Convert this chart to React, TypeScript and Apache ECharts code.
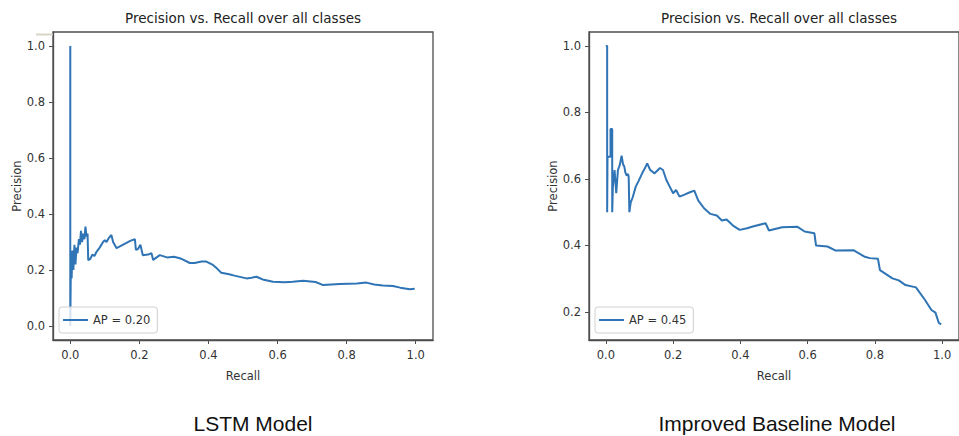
import React, { useEffect, useRef } from "react";
import * as echarts from "echarts";

const chartTitle = "Precision vs. Recall over all classes";
const captions = ["LSTM Model", "Improved Baseline Model"];
const legendNames = ["AP = 0.20", "AP = 0.45"];
const xTicks = [0, 0.2, 0.4, 0.6, 0.8, 1.0];
const leftYTicks = [0, 0.2, 0.4, 0.6, 0.8, 1.0];
const rightYTicks = [0.2, 0.4, 0.6, 0.8, 1.0];

const lstmRecall = [
  0, 0, 0.002, 0.004, 0.006, 0.009, 0.012, 0.015, 0.018, 0.021, 0.025, 0.028, 0.031, 0.034, 0.038,
  0.041, 0.044, 0.047, 0.05, 0.052, 0.058, 0.064, 0.07, 0.076, 0.085, 0.095, 0.1, 0.105, 0.112,
  0.119, 0.124, 0.134, 0.145, 0.16, 0.175, 0.187, 0.19, 0.196, 0.203, 0.21, 0.225, 0.235, 0.24,
  0.25, 0.259, 0.28, 0.3, 0.317, 0.325, 0.346, 0.36, 0.38, 0.394, 0.413, 0.425, 0.437, 0.46,
  0.475, 0.51, 0.525, 0.539, 0.56, 0.587, 0.62, 0.644, 0.674, 0.71, 0.732, 0.78, 0.83, 0.857,
  0.88, 0.905, 0.934, 0.955, 0.983, 0.997,
];
const lstmPrecision = [
  1.0, 0.0, 0.25, 0.17, 0.27, 0.2, 0.29, 0.22, 0.28, 0.26, 0.31, 0.29, 0.34, 0.3, 0.33, 0.31,
  0.355, 0.32, 0.33, 0.235, 0.24, 0.255, 0.25, 0.265, 0.28, 0.3, 0.307, 0.3, 0.315, 0.325, 0.3,
  0.278, 0.285, 0.295, 0.305, 0.31, 0.272, 0.275, 0.29, 0.253, 0.255, 0.26, 0.236, 0.245, 0.253,
  0.245, 0.247, 0.242, 0.238, 0.225, 0.225, 0.23, 0.23, 0.218, 0.205, 0.19, 0.185, 0.18, 0.17,
  0.172, 0.176, 0.165, 0.158, 0.156, 0.158, 0.162, 0.157, 0.146, 0.15, 0.152, 0.155, 0.148,
  0.145, 0.143, 0.137, 0.131, 0.133,
];

const baseRecall = [
  0, 0.004, 0.004, 0.005, 0.014, 0.014, 0.019, 0.019, 0.021, 0.026, 0.031, 0.036, 0.041, 0.047,
  0.051, 0.055, 0.058, 0.062, 0.066, 0.068, 0.07, 0.074, 0.08, 0.089, 0.098, 0.108, 0.116, 0.123,
  0.132, 0.145, 0.161, 0.17, 0.18, 0.19, 0.2, 0.209, 0.219, 0.234, 0.25, 0.263, 0.275, 0.292,
  0.311, 0.33, 0.345, 0.359, 0.378, 0.398, 0.42, 0.437, 0.475, 0.485, 0.524, 0.57, 0.591, 0.62,
  0.625, 0.659, 0.682, 0.736, 0.77, 0.785, 0.809, 0.815, 0.852, 0.871, 0.891, 0.922, 0.949,
  0.968, 0.98, 0.99, 0.997,
];
const basePrecision = [
  1.0, 1.0, 0.5, 0.667, 0.667, 0.75, 0.75, 0.5, 0.577, 0.627, 0.557, 0.627, 0.64, 0.67, 0.645,
  0.637, 0.62, 0.61, 0.615, 0.607, 0.5, 0.53, 0.545, 0.577, 0.595, 0.617, 0.632, 0.647, 0.627,
  0.617, 0.633, 0.627, 0.597, 0.577, 0.557, 0.567, 0.547, 0.553, 0.56, 0.565, 0.535, 0.512,
  0.495, 0.49, 0.475, 0.478, 0.46, 0.447, 0.452, 0.457, 0.467, 0.445, 0.455, 0.456, 0.442, 0.437,
  0.4, 0.397, 0.385, 0.386, 0.366, 0.362, 0.36, 0.326, 0.301, 0.295, 0.281, 0.274, 0.236, 0.206,
  0.198, 0.167, 0.163,
];

const LINE = "#2f74b5";
const AXIS = "#4d4d4d";
const TXT = "#333333";
const MPL_FONT = "'DejaVu Sans', sans-serif";
const LEGEND_ICON =
  "path://M0,5H25V7H0Z M0,0H0.01V0.01H0Z M24.99,11.99H25V12H24.99Z";

export default function App() {
  const ref = useRef<HTMLDivElement>(null);
  useEffect(() => {
    if (!ref.current) return;
    const chart = echarts.init(ref.current, null, { renderer: "svg" });
    const fmt = (v: number) => v.toFixed(1);
    const xAxisBase = (gridIndex: number) => ({
      type: "value",
      gridIndex,
      min: -0.05,
      max: 1.05,
      name: "Recall",
      nameLocation: "middle",
      nameGap: 30,
      nameTextStyle: { fontFamily: MPL_FONT, fontSize: 11.5, color: TXT },
      splitLine: { show: false },
      axisLine: { show: true, onZero: false, lineStyle: { color: AXIS, width: 1.3 } },
      axisTick: {
        show: true,
        length: 4,
        inside: false,
        customValues: xTicks,
        lineStyle: { color: AXIS, width: 1 },
      },
      axisLabel: {
        customValues: xTicks,
        formatter: fmt,
        margin: 9,
        fontFamily: MPL_FONT,
        fontSize: 11.5,
        color: TXT,
      },
    });
    const yAxisBase = (gridIndex: number, min: number, max: number, ticks: number[]) => ({
      type: "value",
      gridIndex,
      min,
      max,
      name: "Precision",
      nameLocation: "middle",
      nameGap: 30,
      nameTextStyle: { fontFamily: MPL_FONT, fontSize: 11.5, color: TXT },
      splitLine: { show: false },
      axisLine: { show: true, onZero: false, lineStyle: { color: AXIS, width: 1.3 } },
      axisTick: {
        show: true,
        length: 4,
        inside: false,
        customValues: ticks,
        lineStyle: { color: AXIS, width: 1 },
      },
      axisLabel: {
        customValues: ticks,
        formatter: fmt,
        margin: 8,
        fontFamily: MPL_FONT,
        fontSize: 11.5,
        color: TXT,
      },
    });
    const legendBase = (name: string, left: number) => ({
      data: [{ name, icon: LEGEND_ICON }],
      left,
      top: 307,
      orient: "vertical",
      backgroundColor: "rgba(255,255,255,0.8)",
      borderColor: "#d0d0d0",
      borderWidth: 1,
      borderRadius: 3,
      padding: [7, 7, 7, 4],
      itemWidth: 25,
      itemHeight: 12,
      itemStyle: { color: LINE, borderWidth: 0 },
      lineStyle: { width: 0 },
      textStyle: { fontFamily: MPL_FONT, fontSize: 11.5, color: TXT },
    });
    chart.setOption({
      animation: false,
      backgroundColor: "#ffffff",
      grid: [
        { left: 53, top: 32, width: 380, height: 308, show: true, borderColor: AXIS, borderWidth: 1.3, containLabel: false },
        { left: 589, top: 32, width: 380, height: 308, show: true, borderColor: AXIS, borderWidth: 1.3, containLabel: false },
      ],
      xAxis: [xAxisBase(0), xAxisBase(1)],
      yAxis: [yAxisBase(0, -0.05, 1.05, leftYTicks), yAxisBase(1, 0.1158, 1.042, rightYTicks)],
      legend: [legendBase(legendNames[0], 59), legendBase(legendNames[1], 595)],
      series: [
        {
          name: legendNames[0],
          type: "line",
          xAxisIndex: 0,
          yAxisIndex: 0,
          symbol: "none",
          lineStyle: { color: LINE, width: 2 },
          itemStyle: { color: LINE },
          data: lstmRecall.map((r, i) => [r, lstmPrecision[i]]),
        },
        {
          name: legendNames[1],
          type: "line",
          xAxisIndex: 1,
          yAxisIndex: 1,
          symbol: "none",
          lineStyle: { color: LINE, width: 2 },
          itemStyle: { color: LINE },
          data: baseRecall.map((r, i) => [r, basePrecision[i]]),
        },
      ],
      graphic: [
        {
          type: "text",
          x: 243,
          y: 18,
          style: { text: chartTitle, fontFamily: MPL_FONT, fontSize: 13.5, fill: "#222", align: "center", verticalAlign: "middle" },
        },
        {
          type: "text",
          x: 779,
          y: 18,
          style: { text: chartTitle, fontFamily: MPL_FONT, fontSize: 13.5, fill: "#222", align: "center", verticalAlign: "middle" },
        },
        {
          type: "text",
          x: 253,
          y: 423,
          style: { text: captions[0], fontFamily: "'Liberation Sans', Arial, sans-serif", fontSize: 21, fill: "#111", align: "center", verticalAlign: "middle" },
        },
        {
          type: "text",
          x: 777,
          y: 423,
          style: { text: captions[1], fontFamily: "'Liberation Sans', Arial, sans-serif", fontSize: 21, fill: "#111", align: "center", verticalAlign: "middle" },
        },
        {
          type: "line",
          shape: { x1: 36, y1: 34.5, x2: 53, y2: 34.5 },
          style: { stroke: "#d9d4c5", lineWidth: 2 },
        },
      ],
    });
    return () => chart.dispose();
  }, []);
  return (
    <div
      ref={ref}
      style={{ position: "absolute", left: 0, top: 0, width: 959, height: 436, background: "#fff" }}
    />
  );
}
